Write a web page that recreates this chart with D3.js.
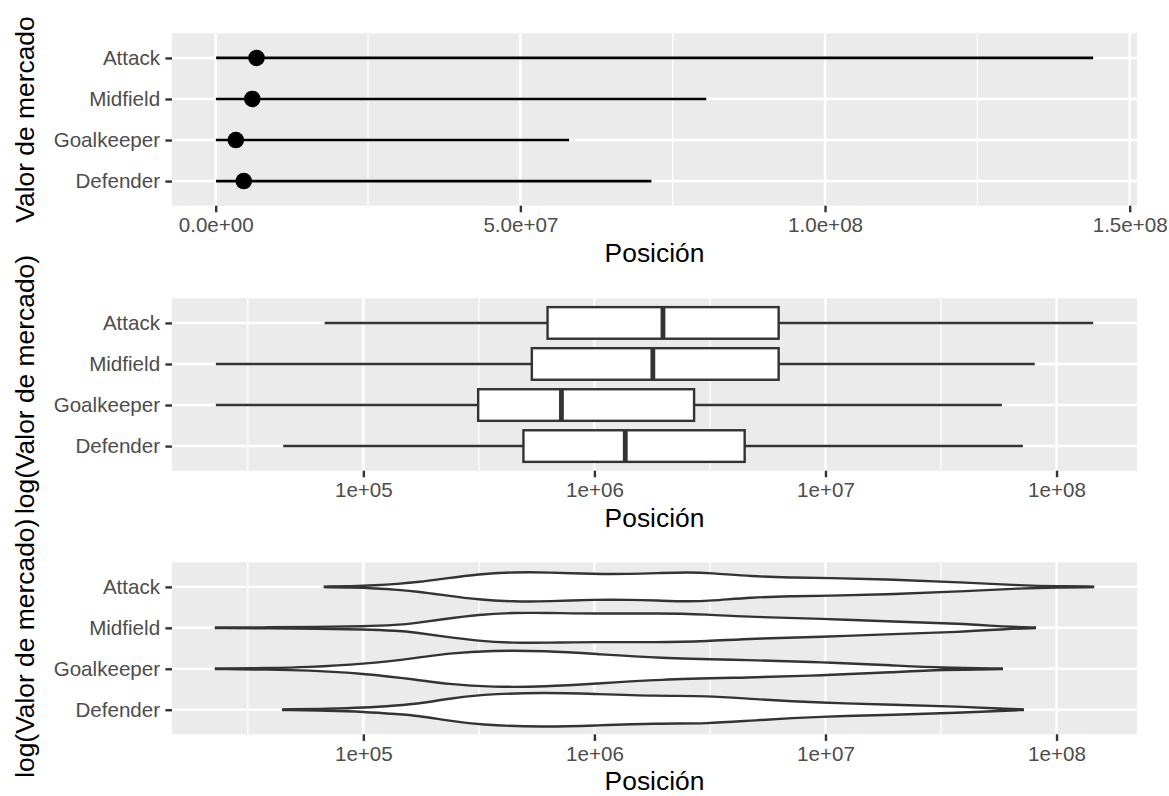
<!DOCTYPE html>
<html>
<head>
<meta charset="utf-8">
<script src="https://cdn.jsdelivr.net/npm/d3@7"></script>
<style>
  body { margin: 0; background: #fff; }
  text { font-family: "Liberation Sans", Arial, sans-serif; }
</style>
</head>
<body>
<script>
const W = 1169, H = 796

// data
const categories = ["Attack", "Midfield", "Goalkeeper", "Defender"]
const meanValues = [6.7e6, 6.0e6, 3.3e6, 4.6e6]
const minValues = [6.8e4, 2.3e4, 2.3e4, 4.5e4]
const maxValues = [1.44e8, 8.05e7, 5.8e7, 7.15e7]
const q1Values = [6.27e5, 5.36e5, 3.14e5, 4.93e5]
const medianValues = [1.98e6, 1.79e6, 7.2e5, 1.36e6]
const q3Values = [6.27e6, 6.27e6, 2.7e6, 4.47e6]

// violin outlines: [log10(valor), scaled density]
const violinAttack = [[4.833,0.016],[4.95,0.04],[5.05,0.08],[5.15,0.16],[5.24,0.26],[5.35,0.45],[5.5,0.70],[5.65,0.80],[5.8,0.79],[6.0,0.69],[6.15,0.70],[6.27,0.74],[6.4,0.80],[6.5,0.76],[6.68,0.57],[6.85,0.50],[7.0,0.49],[7.3,0.40],[7.58,0.25],[7.86,0.07],[8.0,0.03],[8.158,0.016]]
const violinMidfield = [[4.362,0.016],[4.6,0.027],[4.8,0.05],[5.0,0.08],[5.15,0.16],[5.22,0.24],[5.35,0.48],[5.5,0.72],[5.65,0.82],[5.8,0.81],[6.0,0.76],[6.27,0.79],[6.49,0.73],[6.68,0.58],[6.98,0.50],[7.3,0.33],[7.58,0.23],[7.79,0.054],[7.906,0.016]]
const violinGoalkeeper = [[4.362,0.016],[4.6,0.043],[4.75,0.08],[5.0,0.25],[5.24,0.60],[5.36,0.83],[5.56,1.0],[5.79,0.97],[6.0,0.81],[6.27,0.58],[6.68,0.47],[6.98,0.36],[7.3,0.18],[7.5,0.054],[7.763,0.016]]
const violinDefender = [[4.653,0.016],[4.85,0.054],[5.0,0.11],[5.15,0.24],[5.24,0.33],[5.35,0.56],[5.5,0.83],[5.79,0.94],[5.99,0.86],[6.27,0.74],[6.49,0.76],[6.68,0.58],[6.98,0.37],[7.3,0.27],[7.58,0.17],[7.77,0.054],[7.854,0.016]]
const violins = [violinAttack, violinMidfield, violinGoalkeeper, violinDefender]

const linTicks = [0, 5e7, 1e8, 1.5e8]
const linTickLabels = ["0.0e+00", "5.0e+07", "1.0e+08", "1.5e+08"]
const logTicks = [1e5, 1e6, 1e7, 1e8]
const logTickLabels = ["1e+05", "1e+06", "1e+07", "1e+08"]

const left = 172, right = 1137
const tickFont = 20.6, titleFont = 26.4

const svg = d3.select("body").append("svg").attr("width", W).attr("height", H)

const lo = d3.min(minValues), hi = d3.max(maxValues)
const linPad = (hi - lo) * 0.05
const xLin = d3.scaleLinear().domain([lo - linPad, hi + linPad]).range([left, right])
const logLo = Math.log10(lo), logHi = Math.log10(hi), logPad = (logHi - logLo) * 0.05
const xLog = d3.scaleLog().domain([Math.pow(10, logLo - logPad), Math.pow(10, logHi + logPad)]).range([left, right])

const linMinor = d3.range(linTicks.length + 1).map(i => (i - 0.5) * 5e7).filter(v => xLin(v) > left && xLin(v) < right)
const logMinor = [4, 5, 6, 7, 8].map(e => Math.pow(10, e + 0.5)).filter(v => xLog(v) > left && xLog(v) < right)

function panel(top, bottom, x, ticks, labels, minor, yTitle) {
    const g = svg.append("g")
    const y = d3.scalePoint().domain(categories).range([top, bottom]).padding(0.6)

    g.append("rect").attr("x", left).attr("y", top).attr("width", right - left).attr("height", bottom - top).attr("fill", "#EBEBEB")
    g.selectAll(".minor").data(minor).enter().append("line")
        .attr("x1", d => x(d)).attr("x2", d => x(d)).attr("y1", top).attr("y2", bottom)
        .attr("stroke", "#fff").attr("stroke-width", 1.2)
    g.selectAll(".vmajor").data(ticks).enter().append("line")
        .attr("x1", d => x(d)).attr("x2", d => x(d)).attr("y1", top).attr("y2", bottom)
        .attr("stroke", "#fff").attr("stroke-width", 2.4)
    g.selectAll(".hmajor").data(categories).enter().append("line")
        .attr("x1", left).attr("x2", right).attr("y1", d => y(d)).attr("y2", d => y(d))
        .attr("stroke", "#fff").attr("stroke-width", 2.4)

    const xa = g.append("g").attr("transform", `translate(0,${bottom})`)
        .call(d3.axisBottom(x).tickValues(ticks).tickFormat((d, i) => labels[i]).tickSize(6.6).tickPadding(5.3))
    const ya = g.append("g").attr("transform", `translate(${left},0)`)
        .call(d3.axisLeft(y).tickSize(6.6).tickPadding(5.3))
    for (const a of [xa, ya]) {
        a.select(".domain").remove()
        a.attr("font-family", null).attr("font-size", null)
        a.selectAll(".tick line").attr("stroke", "#333333").attr("stroke-width", 2.4)
        a.selectAll(".tick text").attr("fill", "#4D4D4D").style("font-size", tickFont + "px")
    }

    g.append("text").attr("x", (left + right) / 2).attr("y", bottom + 56)
        .attr("text-anchor", "middle").style("font-size", titleFont + "px").text("Posición")
    g.append("text").attr("transform", `translate(34,${(top + bottom) / 2}) rotate(-90)`)
        .attr("text-anchor", "middle").style("font-size", titleFont + "px").text(yTitle)

    return { g, y }
}

// panel 1: range + mean
const p1 = panel(33.3, 205.7, xLin, linTicks, linTickLabels, linMinor, "Valor de mercado")
p1.g.selectAll(".range").data(categories).enter().append("line")
    .attr("x1", (d, i) => xLin(minValues[i])).attr("x2", (d, i) => xLin(maxValues[i]))
    .attr("y1", d => p1.y(d)).attr("y2", d => p1.y(d))
    .attr("stroke", "#000").attr("stroke-width", 2.7)
p1.g.selectAll(".mean").data(categories).enter().append("circle")
    .attr("cx", (d, i) => xLin(meanValues[i])).attr("cy", d => p1.y(d)).attr("r", 8.3).attr("fill", "#000")

// panel 2: boxplot on log scale
const p2 = panel(298.3, 470.7, xLog, logTicks, logTickLabels, logMinor, "log(Valor de mercado)")
const boxH = p2.y.step() * 0.77
const box = p2.g.selectAll(".box").data(categories).enter().append("g")
box.append("line").attr("x1", (d, i) => xLog(minValues[i])).attr("x2", (d, i) => xLog(q1Values[i]))
    .attr("y1", d => p2.y(d)).attr("y2", d => p2.y(d)).attr("stroke", "#333333").attr("stroke-width", 2.4)
box.append("line").attr("x1", (d, i) => xLog(q3Values[i])).attr("x2", (d, i) => xLog(maxValues[i]))
    .attr("y1", d => p2.y(d)).attr("y2", d => p2.y(d)).attr("stroke", "#333333").attr("stroke-width", 2.4)
box.append("rect").attr("x", (d, i) => xLog(q1Values[i])).attr("width", (d, i) => xLog(q3Values[i]) - xLog(q1Values[i]))
    .attr("y", d => p2.y(d) - boxH / 2).attr("height", boxH)
    .attr("fill", "#fff").attr("stroke", "#333333").attr("stroke-width", 2.4)
box.append("line").attr("x1", (d, i) => xLog(medianValues[i])).attr("x2", (d, i) => xLog(medianValues[i]))
    .attr("y1", d => p2.y(d) - boxH / 2).attr("y2", d => p2.y(d) + boxH / 2)
    .attr("stroke", "#333333").attr("stroke-width", 4.8)

// panel 3: violins on log scale
const p3 = panel(562.3, 734.3, xLog, logTicks, logTickLabels, logMinor, "log(Valor de mercado)")
const half = d3.scaleLinear().domain([0, 1]).range([0, 0.45 * p3.y.step()])
categories.forEach((c, i) => {
    const cy = p3.y(c)
    const area = d3.area()
        .x(d => xLog(Math.pow(10, d[0])))
        .y0(d => cy - half(d[1]))
        .y1(d => cy + half(d[1]))
        .curve(d3.curveBasis)
    p3.g.append("path").datum(violins[i]).attr("d", area)
        .attr("fill", "#fff").attr("stroke", "#333333").attr("stroke-width", 2.4)
})
</script>
</body>
</html>
